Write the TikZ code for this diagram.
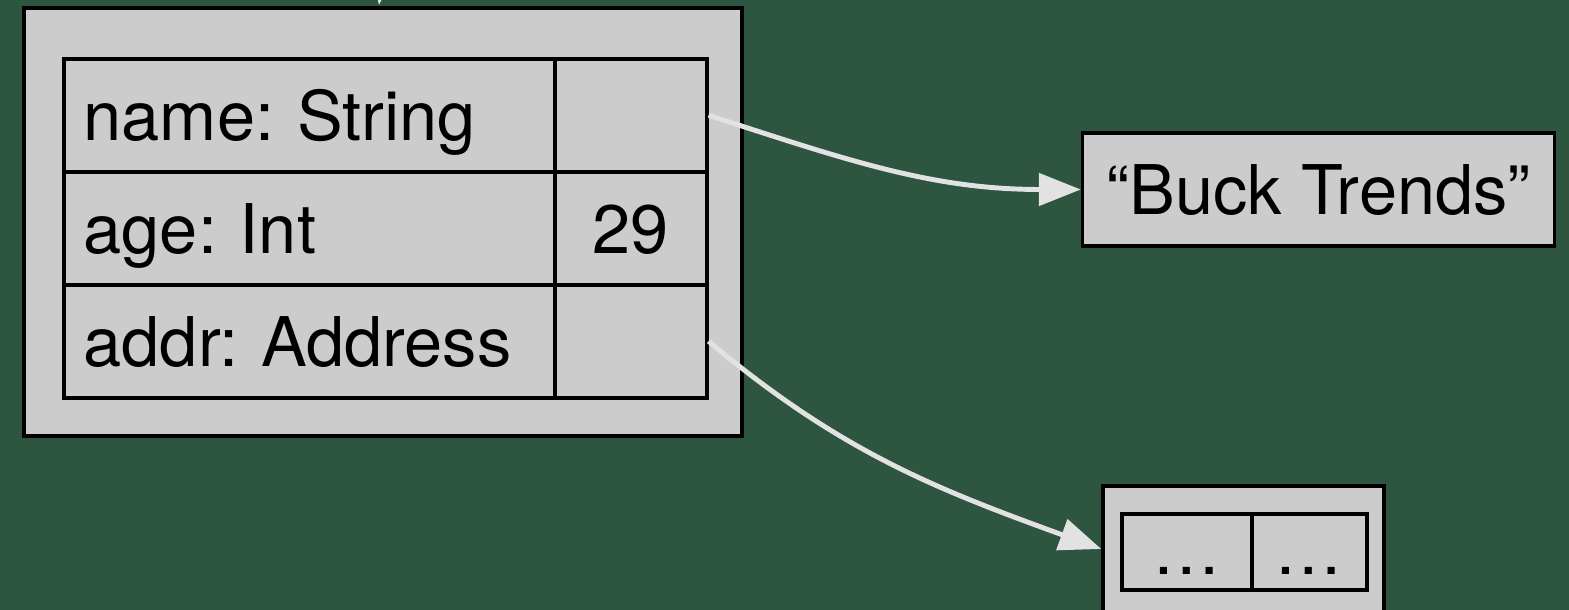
\documentclass[tikz,border=0pt]{standalone}
\usepackage{fontspec}
\setmainfont{TeX Gyre Heros}
\usetikzlibrary{matrix,calc,positioning,arrows.meta}
\definecolor{water}{RGB}{45,85,64}
\definecolor{cellgray}{RGB}{204,204,204}
\definecolor{ptrgray}{RGB}{226,226,226}

\begin{document}
\begin{tikzpicture}[
  line width=1pt,
  every node/.style={font=\fontsize{19.5}{23}\selectfont\frenchspacing},
  box/.style={draw,fill=cellgray,inner sep=0pt},
  cell/.style={draw,fill=cellgray,minimum height=1.13cm,text height=0.5cm,text depth=0pt,inner ysep=0pt},
  ptr/.style={draw=ptrgray,line width=1.4pt,-{Triangle[length=0.42cm,width=0.32cm]}},
  ampersand replacement=\&
]%
  \fill[water] (0,0) rectangle (15.69,-6.10);
  \useasboundingbox (0,0) rectangle (15.69,-6.10);

  % the object
  \node (obj) [box,minimum width=7.18cm,minimum height=4.28cm] at (3.83,-2.22) {};
  \matrix (mP) [matrix of nodes,inner sep=0pt,anchor=north west,
    row sep=-\pgflinewidth,column sep=-\pgflinewidth,nodes={cell},
    column 1/.style={nodes={text width=4.51cm,align=left,inner xsep=0.2cm}},
    column 2/.style={nodes={minimum width=1.52cm}}]
    at ($(obj.north west)+(0.38,-0.49)$)
  {
    |(pName)| name: String  \& |(vName)| {} \\
    |(pAge)|  age: Int      \& |(vAge)|  29 \\
    |(pAddr)| addr: Address \& |(vAddr)| {} \\
  };

  % the string
  \node (bt) [box,minimum height=1.13cm,inner xsep=0.24cm,text height=0.5cm,text depth=0pt]
    at (13.185,-1.895) {“Buck Trends”};

  % the address
  \node (addr) [box,minimum width=2.81cm,minimum height=1.26cm] at (12.435,-5.49) {};
  \matrix (mA) [matrix of nodes,inner sep=0pt,anchor=north west,
    column sep=-\pgflinewidth,nodes={cell,minimum height=0.76cm,text height=0.45cm},
    column 1/.style={nodes={minimum width=1.30cm}},
    column 2/.style={nodes={minimum width=1.15cm}}]
    at ($(addr.north west)+(0.17,-0.26)$)
  {
    |(aOne)| \ldots \& |(aTwo)| \ldots \\
  };

  % pointers
  \coordinate (topSrc) at (3.86,0.6);
  \coordinate (topEnd) at (3.79,-0.05);
  \draw[ptr] (topSrc) -- (topEnd);
  \draw[ptr] (vName.east) to[out=-18,in=180] (bt.west);
  \draw[ptr] (vAddr.east) to[out=-40,in=160] (addr.west);

\end{tikzpicture}
\end{document}
